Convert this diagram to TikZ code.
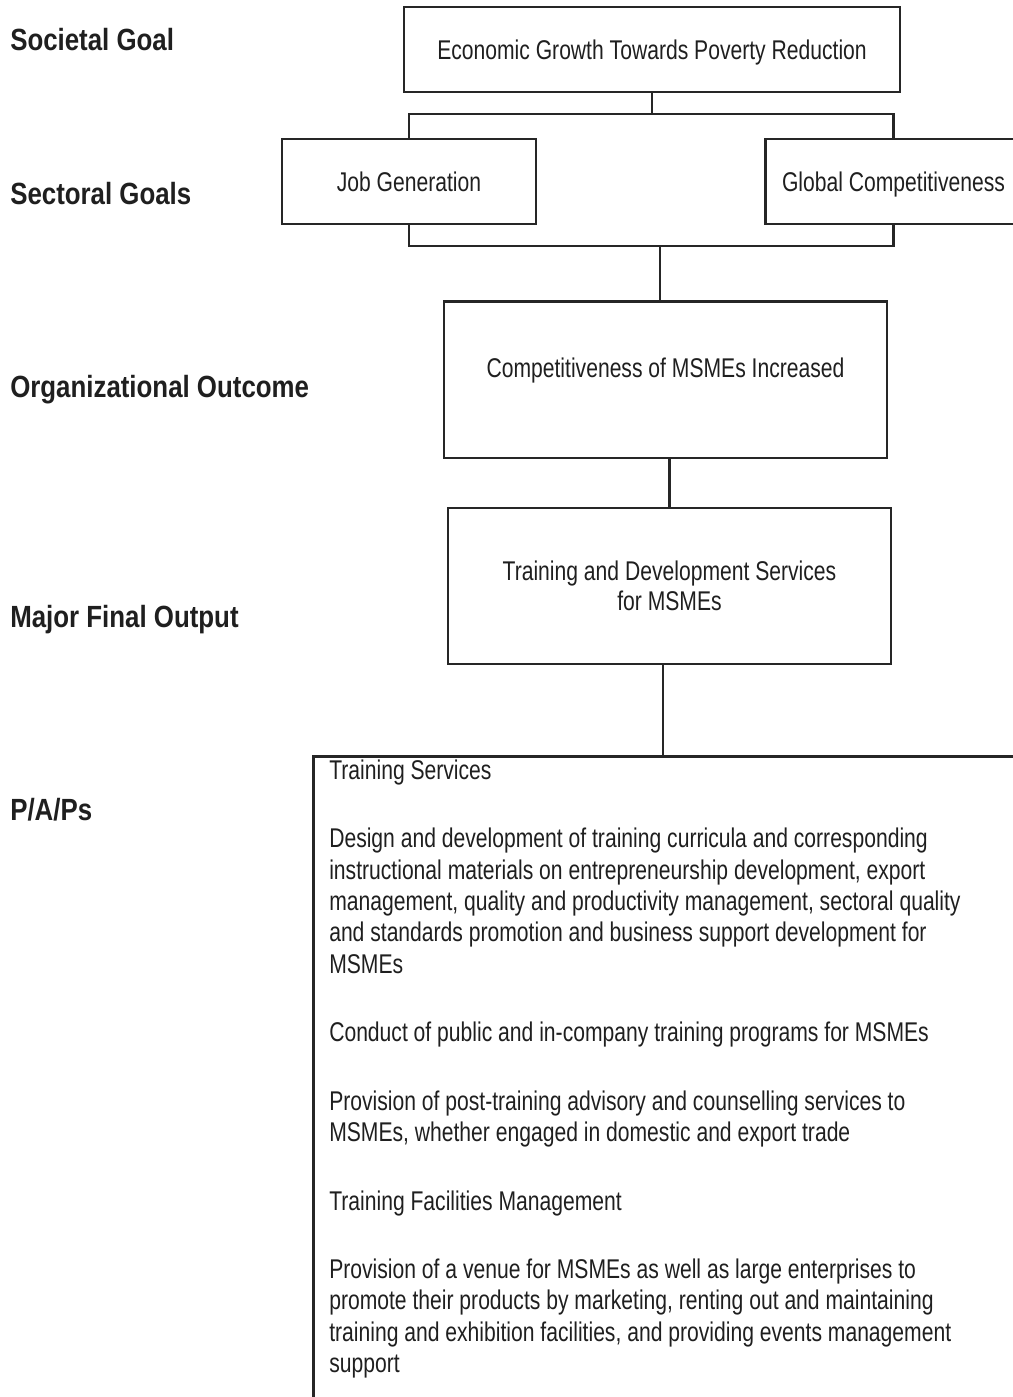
\documentclass[tikz,border=0pt]{standalone}
\usepackage{fontspec}
\setmainfont{Liberation Sans}[FakeStretch=0.78]
\newfontfamily\levelfont{Liberation Sans}[FakeStretch=0.843]
\usetikzlibrary{positioning,calc}

\begin{document}
\begin{tikzpicture}[
  x=0.75pt, y=-0.75pt,
  levellabel/.style={font=\levelfont\bfseries\fontsize{23}{27}\selectfont, text=black!88, anchor=base west, inner sep=0pt},
  goalbox/.style={draw=black!85, line width=1.9pt, inner sep=0pt, font=\fontsize{20.3}{22.5}\selectfont, text=black!88, align=center, text depth=0pt},
  papsbox/.style={draw=black!85, line width=1.9pt, anchor=north west, inner sep=0pt, minimum width=600pt, minimum height=525pt},
  papslist/.style={anchor=north west, inner sep=0pt, align=left, font=\fontsize{20.3}{23.6}\selectfont, text=black!88},
  link/.style={draw=black!85, line width=1.9pt}
]
  \useasboundingbox (0,0) rectangle (1013,1397);

  % level names
  \node[levellabel] (societal) at (10,50) {Societal Goal};
  \node[levellabel] (sectoral) at (10,204) {Sectoral Goals};
  \node[levellabel] (organizational) at (10,397) {Organizational Outcome};
  \node[levellabel] (mfo) at (10,627) {Major Final Output};
  \node[levellabel] (papslabel) at (10,820) {P/A/Ps};

  % boxes
  \node[goalbox, minimum width=372pt, minimum height=63.75pt] (goal) at (652,49.5) {Economic Growth Towards Poverty Reduction};
  \node[goalbox, minimum width=190.5pt, minimum height=63.75pt] (jobs) at (409,181.5) {Job Generation};
  \node[goalbox, minimum width=192pt, minimum height=63.75pt] (global) at (893.5,181.5) {Global Competitiveness};
  \node[goalbox, minimum width=332.25pt, text height=57.5pt, text depth=60.2pt, anchor=north] (outcome) at (665.5,300) {Competitiveness of MSMEs Increased};
  \node[goalbox, minimum width=332.25pt, minimum height=117pt] (output) at (669.5,586) {Training and Development Services\\for MSMEs};

  \node[papsbox] (paps) at (312,755) {};
  \node[papslist, below right=3.2pt and 12.75pt of paps.north west] (papstext) {%
    Training Services\\[27.7pt]
    Design and development of training curricula and corresponding\\
    instructional materials on entrepreneurship development, export\\
    management, quality and productivity management, sectoral quality\\
    and standards promotion and business support development for\\
    MSMEs\\[27.7pt]
    Conduct of public and in-company training programs for MSMEs\\[27.7pt]
    Provision of post-training advisory and counselling services to\\
    MSMEs, whether engaged in domestic and export trade\\[27.7pt]
    Training Facilities Management\\[27.7pt]
    Provision of a venue for MSMEs as well as large enterprises to\\
    promote their products by marketing, renting out and maintaining\\
    training and exhibition facilities, and providing events management\\
    support};

  % connectors
  \coordinate (upjoin) at ($(goal.south)+(0,20.5)$);
  \coordinate (lowjoin) at (660,246);
  \draw[link] (goal.south) -- (upjoin);
  \draw[link] (jobs.north) |- (upjoin) -| (global.north);
  \draw[link] (jobs.south) |- (lowjoin) -| (global.south);
  \draw[link] (lowjoin) -- (lowjoin |- outcome.north);
  \draw[link] (outcome.south -| output.north) -- (output.north);
  \draw[link] ([xshift=-5pt]output.south) -- ([xshift=-5pt]output.south |- paps.north);
\end{tikzpicture}
\end{document}
